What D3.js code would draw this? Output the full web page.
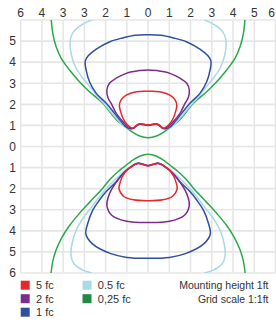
<!DOCTYPE html>
<html><head><meta charset="utf-8">
<script src="https://cdn.jsdelivr.net/npm/d3@7"></script>
<style>html,body{margin:0;padding:0;background:#fff;}svg{display:block;font-family:"Liberation Sans",Arial,sans-serif;}</style>
</head><body><svg id="c" width="276" height="322"></svg>
<script>
// Right halves of the iso-footcandle curves, (x, y) in grid units (left halves are mirror images)
// upper lobe
const red5Up = [[0,1.02],[0.2,1.05],[0.42,1.07],[0.58,0.97],[0.72,0.86],[0.88,0.94],[1.11,1.2],[1.27,1.57],[1.35,1.97],[1.27,2.21],[1.03,2.44],[0.56,2.6],[0,2.62]];
const purple2Up = [[0,1.02],[0.2,1.05],[0.42,1.07],[0.58,0.97],[0.72,0.87],[0.95,0.94],[1.19,1.18],[1.5,1.57],[1.74,2.05],[1.89,2.31],[1.94,2.68],[1.82,3.0],[1.5,3.24],[1.03,3.47],[0.4,3.6],[0,3.63]];
const blue1Up = [[0,1.0],[0.2,1.03],[0.42,1.05],[0.58,0.95],[0.72,0.85],[0.98,0.88],[1.27,1.18],[1.58,1.57],[1.97,2.05],[2.44,2.52],[2.76,3.07],[2.92,3.63],[2.96,4.05],[2.82,4.3],[2.44,4.62],[1.8,4.97],[1.2,5.15],[0.6,5.28],[0,5.3]];
const lblue05Up = [[0,0.99],[0.2,1.02],[0.42,1.04],[0.58,0.94],[0.72,0.84],[1.0,0.86],[1.3,1.12],[1.65,1.52],[2.05,2.0],[2.4,2.38],[2.68,2.76],[3.07,3.24],[3.39,3.71],[3.59,4.26],[3.67,4.73],[3.65,5.13],[3.51,5.45],[3.15,5.76],[2.68,6.0],[2.3,6.2]];
const green025Up = [[0,0.42],[0.4,0.5],[0.8,0.73],[1.05,0.92],[1.42,1.2],[1.74,1.57],[2.13,2.05],[2.76,2.6],[3.23,3.07],[3.7,3.63],[4.09,4.18],[4.33,4.73],[4.49,5.37],[4.56,6.0],[4.58,6.3]];
// lower lobe
const red5Low = [[0,-0.92],[0.2,-0.87],[0.45,-0.81],[0.62,-0.86],[0.79,-0.97],[1.0,-1.12],[1.2,-1.4],[1.33,-1.75],[1.37,-2.0],[1.16,-2.36],[0.69,-2.53],[0,-2.57]];
const purple2Low = [[0,-0.91],[0.2,-0.86],[0.45,-0.8],[0.62,-0.85],[0.79,-0.96],[1.05,-1.15],[1.4,-1.55],[1.7,-2.0],[1.87,-2.38],[1.94,-2.8],[1.7,-3.27],[1.0,-3.55],[0,-3.61]];
const blue1Low = [[0,-0.9],[0.2,-0.85],[0.45,-0.79],[0.62,-0.84],[0.79,-0.95],[1.1,-1.2],[1.5,-1.67],[1.97,-2.14],[2.29,-2.54],[2.6,-3.01],[2.84,-3.64],[2.93,-4.15],[2.62,-4.62],[1.79,-5.07],[1.0,-5.26],[0,-5.3]];
const lblue05Low = [[0,-0.89],[0.2,-0.84],[0.45,-0.78],[0.62,-0.83],[0.79,-0.94],[1.15,-1.2],[1.6,-1.62],[2.1,-2.15],[2.68,-2.9],[3.1,-3.45],[3.4,-4.0],[3.58,-4.6],[3.63,-5.15],[3.5,-5.55],[3.07,-5.86],[2.68,-6.0],[2.3,-6.2]];
const green025Low = [[0,-0.37],[0.4,-0.46],[0.8,-0.7],[1.05,-0.9],[1.42,-1.2],[1.79,-1.55],[2.2,-2.05],[2.76,-2.65],[3.23,-3.17],[3.7,-3.75],[4.05,-4.3],[4.33,-4.9],[4.49,-5.45],[4.57,-6.0],[4.6,-6.3]];

const xTicks = [-6,-5,-4,-3,-2,-1,0,1,2,3,4,5,6];
const xTickLabels = ["6","4","3","3","2","1","0","1","2","3","4","5","6"];
const yTicks = [5,4,3,2,1,0,-1,-2,-3,-4,-5,-6];
const yTickLabels = ["5","4","3","2","1","0","1","2","3","4","5","6"];

const legendLabels = ["5 fc","2 fc","1 fc","0.5 fc","0,25 fc"];
const legendColors = ["#e8262d","#7b2d8e","#2f4f9f","#a9d8e6","#1e8a43"];
const lineColors = ["#e8262d","#7b2d8e","#2f4f9f","#a9d8e6","#2aa84a"];
const notes = ["Mounting height 1ft","Grid scale  1:1ft"];

const svg = d3.select("#c");
const x = d3.scaleLinear().domain([-6,6]).range([20.7,275.5]);
const y = d3.scaleLinear().domain([6,-6]).range([20,273]);

// grid
const g = svg.append("g");
g.selectAll("line.v").data(xTicks).join("line")
  .attr("x1",d=>x(d)).attr("x2",d=>x(d)).attr("y1",y(6)).attr("y2",y(-6))
  .attr("stroke","#e6e6e6").attr("stroke-width",1.6);
g.selectAll("line.h").data(d3.range(-6,7)).join("line")
  .attr("y1",d=>y(d)).attr("y2",d=>y(d)).attr("x1",x(-6)).attr("x2",x(6))
  .attr("stroke","#e6e6e6").attr("stroke-width",1.6);

// tick labels
svg.append("g").selectAll("text").data(xTicks).join("text")
  .attr("x",d=>Math.min(Math.max(x(d),13),271.5)).attr("y",17.3)
  .attr("text-anchor","middle").attr("font-size",12).attr("fill","#333")
  .text((d,i)=>xTickLabels[i]);
svg.append("g").selectAll("text").data(yTicks).join("text")
  .attr("x",12.7).attr("y",d=>y(d)+4.3)
  .attr("text-anchor","middle").attr("font-size",12).attr("fill","#333")
  .text((d,i)=>yTickLabels[i]);

// clip
svg.append("clipPath").attr("id","clip").append("rect")
  .attr("x",x(-6)).attr("y",y(6)).attr("width",x(6)-x(-6)).attr("height",y(-6)-y(6));

function mirrored(half, closed){
  if(closed){
    return half.concat(half.slice(1,-1).reverse().map(p=>[-p[0],p[1]]));
  }
  const left = half.slice().reverse().map(p=>[-p[0],p[1]]);
  return left.slice(0,-1).concat(half);
}
const curves = [
  {d:[green025Up,green025Low], c:lineColors[4], closed:false},
  {d:[lblue05Up,lblue05Low], c:lineColors[3], closed:false},
  {d:[blue1Up,blue1Low], c:lineColors[2], closed:true},
  {d:[purple2Up,purple2Low], c:lineColors[1], closed:true},
  {d:[red5Up,red5Low], c:lineColors[0], closed:true}
];
const cg = svg.append("g").attr("clip-path","url(#clip)");
[0,1].forEach(k=>{
  curves.forEach(cv=>{
    const pts = mirrored(cv.d[k], cv.closed);
    const line = d3.line().x(p=>x(p[0])).y(p=>y(p[1]))
      .curve(cv.closed ? d3.curveCatmullRomClosed.alpha(0.5) : d3.curveCatmullRom.alpha(0.5));
    cg.append("path").attr("d",line(pts)).attr("fill","none")
      .attr("stroke",cv.c).attr("stroke-width",1.5).attr("stroke-linejoin","round");
  });
});

// legend
const lg = svg.append("g");
const lpos = [[20.7,280.7],[20.7,294.2],[20.7,307.7],[82.5,280.7],[82.5,294.2]];
legendLabels.forEach((t,i)=>{
  lg.append("rect").attr("x",lpos[i][0]).attr("y",lpos[i][1]).attr("width",9).attr("height",9).attr("fill",legendColors[i]);
  lg.append("text").attr("x",lpos[i][0]+15.3).attr("y",lpos[i][1]+8.5)
    .attr("font-size",11).attr("fill","#333").text(t);
});
notes.forEach((t,i)=>{
  lg.append("text").attr("x",268.5).attr("y",289.3+i*13.4).attr("text-anchor","end")
    .attr("font-size",10.5).attr("fill","#333").text(t);
});
</script></body></html>
